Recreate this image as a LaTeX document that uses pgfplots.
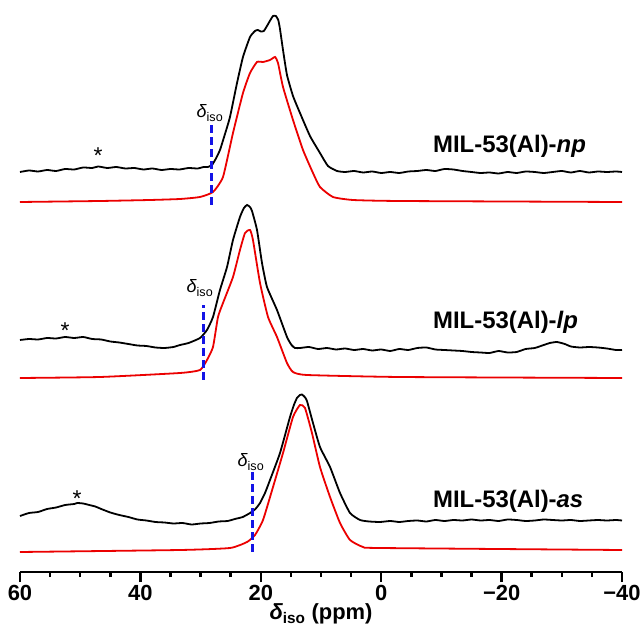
\documentclass[border=0pt]{standalone}
\usepackage{fontspec}
\setmainfont{Liberation Sans}
\usepackage{pgfplots}
\pgfplotsset{compat=1.18}
\definecolor{specred}{RGB}{235,0,0}
\definecolor{isoblue}{RGB}{20,20,230}
\newcommand{\diso}{{\itshape δ}\textsubscript{iso}}
\begin{document}
\begin{tikzpicture}
\useasboundingbox (0,0) rectangle (641bp,627bp);
\begin{axis}[
  at={(20bp,55bp)}, anchor=south west,
  scale only axis, width=602bp, height=562bp,
  xmin=-40, xmax=60, ymin=0, ymax=562,
  x dir=reverse,
  axis x line=bottom, axis y line=none,
  x axis line style={-, line width=2.5bp},
  xtick={-40,-20,0,20,40,60},
  xticklabels={−40,−20,0,20,40,60},
  minor x tick num=3,
  tick align=outside,
  major tick length=10bp, minor tick length=5bp,
  every tick/.style={line width=2.5bp, black},
  xticklabel style={font=\fontsize{22}{22}\selectfont\bfseries},
  clip=false,
  every axis plot/.append style={line width=1.8bp, smooth, tension=0.3},
]
% ---- np (top) ----
\addplot[black] coordinates {
(60,400)(58.5,401.5)(57,400.5)(55.5,402)(54,401)(52.5,403)(51,402.5)(49.5,404.5)(48,404)(47,405.5)(45.5,404)(44,405)(42.5,403.5)(41,404)(39.5,402.5)(38,403.5)(36.5,402)(35,403)(33.5,402.5)(32,404)(30.5,403.5)(29.5,405)(28.8,405)(28.11,407)(27.5,413)(26.78,422)(26,437)(25.12,455)(23.95,489)(22.96,515)(21.79,535)(20.96,541)(20.5,542)(20,540.5)(19.5,541)(18.97,546)(18.4,552)(17.97,556)(17.5,556)(17.1,552)(16.81,543)(16.31,522)(15.65,497)(14.65,476)(13.49,459)(11.83,436)(10.17,419)(8.84,406)(7.34,401)(6,400)(4.5,401)(3,399.5)(1.5,400.5)(0,399)(-1.5,400)(-3,399)(-4.5,400.5)(-6,401)(-7.5,402)(-9,401)(-10.5,403)(-12,402.5)(-13.5,401)(-15,400)(-16.5,399)(-18,399.5)(-19.5,398.5)(-21,400)(-22.5,399)(-24,400.5)(-25.5,400)(-27,399)(-28.5,400)(-30,401)(-31.5,399.5)(-33,401)(-34.5,399.5)(-36,400.5)(-37.5,400)(-39,400.5)(-40,400)
};
\addplot[specred] coordinates {
(60,370)(46.71,371)(38.41,372)(33.42,373)(30.10,375)(27.94,380)(26.28,395)(24.62,439)(22.96,479)(21.79,499)(20.63,510)(19.63,510)(18.47,512)(17.64,515)(17.14,509)(16.31,485)(14.65,452)(12.99,422)(11.33,399)(10.17,385)(8.01,375)(4.68,372)(-3.12,371)(-40,370)
};
% ---- lp (middle) ----
\addplot[black] coordinates {
(60,232)(58.5,233)(57,232.5)(55.5,234)(54,233.5)(52.5,235)(51,234)(49.5,235)(48,233)(46.5,232.5)(45,230.5)(43.5,229.5)(42,228)(40.5,226.5)(39,226)(37.5,224.5)(36,224)(34.5,225)(33.42,227)(32,229)(30.10,234)(28.94,242)(27.94,255)(26.78,282)(25.61,305)(24.62,332)(23.46,355)(22.8,364)(22.29,367)(21.8,365)(21.46,361)(20.63,342)(19.80,309)(18.97,285)(17.31,262)(15.65,235)(14.9,227)(14.32,224)(13.49,224)(12,225)(10.5,223)(9,224)(7.5,222.5)(6,223.5)(4.5,222)(3,223)(1.5,221.5)(0,222.5)(-1.5,221)(-3,223)(-4.5,222)(-6,224)(-7.5,224.5)(-9,222.5)(-10.5,222)(-12,221.5)(-13.5,221)(-15,220)(-16.5,219.5)(-18,219)(-19.5,221)(-21,219.5)(-22.5,220)(-24,223)(-25.5,224)(-27,227)(-28,229)(-29.2,230)(-30.5,228)(-31.5,225.5)(-33,224.5)(-34.5,225)(-36,224.5)(-37.5,223.5)(-39,222)(-40,222)
};
\addplot[specred] coordinates {
(60,194)(46.71,195)(33.42,199)(30.10,202)(28.94,212)(27.94,225)(27.11,255)(26.28,269)(24.62,295)(23.46,322)(22.62,339)(21.79,342)(21.30,332)(20.13,289)(18.80,255)(17.31,235)(15.65,209)(14.65,200)(12.33,197)(-3.12,195)(-40,194)
};
% ---- as (bottom) ----
\addplot[black] coordinates {
(60,56)(58.5,59)(57,60)(55.5,63)(54,64.5)(52.5,67)(51,68)(50.5,69)(49.5,68.5)(48.5,67)(47.5,65.5)(46.5,63)(45,59.5)(43.5,57)(42,55)(40.5,52.5)(39,51.5)(37.5,50)(36,49.5)(34.5,48.5)(33,49)(31.5,47.5)(30,48.5)(28.5,49)(27,50.5)(25.5,51)(24.3,53)(23,55)(21.79,59)(20.9,63)(20.13,69)(19.3,79)(18.47,92)(16.81,119)(15.15,155)(14.5,167)(13.99,174)(13.5,177)(13.16,177.5)(12.7,175)(12.33,171)(11.33,149)(10.17,125)(8.50,105)(6.84,79)(5.18,59)(3.52,52)(2,50.5)(0.2,50)(-1.5,51)(-3,50)(-4.5,51)(-6,51.5)(-7.5,50.5)(-9,52)(-10.5,51)(-12,52)(-13.5,51.5)(-15,52.5)(-16.5,51.5)(-18,52)(-19.5,51)(-21,52.5)(-22.5,52)(-24,51)(-25.5,51.5)(-27,52.5)(-28.5,52)(-30,51.5)(-31.5,52)(-33,51)(-34.5,51.5)(-36,52)(-37.5,51.5)(-39,52)(-40,51.5)
};
\addplot[specred] coordinates {
(60,20)(33.42,22)(25.12,24)(22.29,30)(20.96,37)(19.63,52)(17.97,85)(16.31,119)(14.65,155)(13.49,167)(12.66,164)(11.50,139)(10.17,105)(8.50,75)(6.84,49)(5.18,32)(3.02,25)(0.20,24)(-40,22)
};
% ---- delta_iso markers ----
\addplot[isoblue, line width=3bp, dash pattern=on 8bp off 4bp, sharp plot] coordinates {(28.11,367)(28.11,447)};
\addplot[isoblue, line width=3bp, dash pattern=on 8bp off 4bp, sharp plot] coordinates {(29.44,192)(29.44,267)};
\addplot[isoblue, line width=3bp, dash pattern=on 8bp off 4bp, sharp plot] coordinates {(21.30,20)(21.30,100)};
\node[font=\fontsize{18}{18}\selectfont] at (axis cs:28.44,459) {\diso};
\node[font=\fontsize{18}{18}\selectfont] at (axis cs:30.1,284) {\diso};
\node[font=\fontsize{18}{18}\selectfont] at (axis cs:21.63,110) {\diso};
% asterisks
\node[font=\fontsize{23}{23}\selectfont] at (axis cs:47.04,416) {*};
\node[font=\fontsize{23}{23}\selectfont] at (axis cs:52.52,241) {*};
\node[font=\fontsize{23}{23}\selectfont] at (axis cs:50.53,73) {*};
% sample labels
\node[anchor=base west, inner sep=0pt, font=\fontsize{24}{24}\selectfont\bfseries] at (axis cs:-8.6,419) {MIL-53(Al)-\textit{np}};
\node[anchor=base west, inner sep=0pt, font=\fontsize{24}{24}\selectfont\bfseries] at (axis cs:-8.6,243) {MIL-53(Al)-\textit{lp}};
\node[anchor=base west, inner sep=0pt, font=\fontsize{24}{24}\selectfont\bfseries] at (axis cs:-8.6,64) {MIL-53(Al)-\textit{as}};
% x label
\node[font=\fontsize{22}{22}\selectfont\bfseries] at (axis cs:10,-42) {\diso{} (ppm)};
\end{axis}
\end{tikzpicture}
\end{document}
